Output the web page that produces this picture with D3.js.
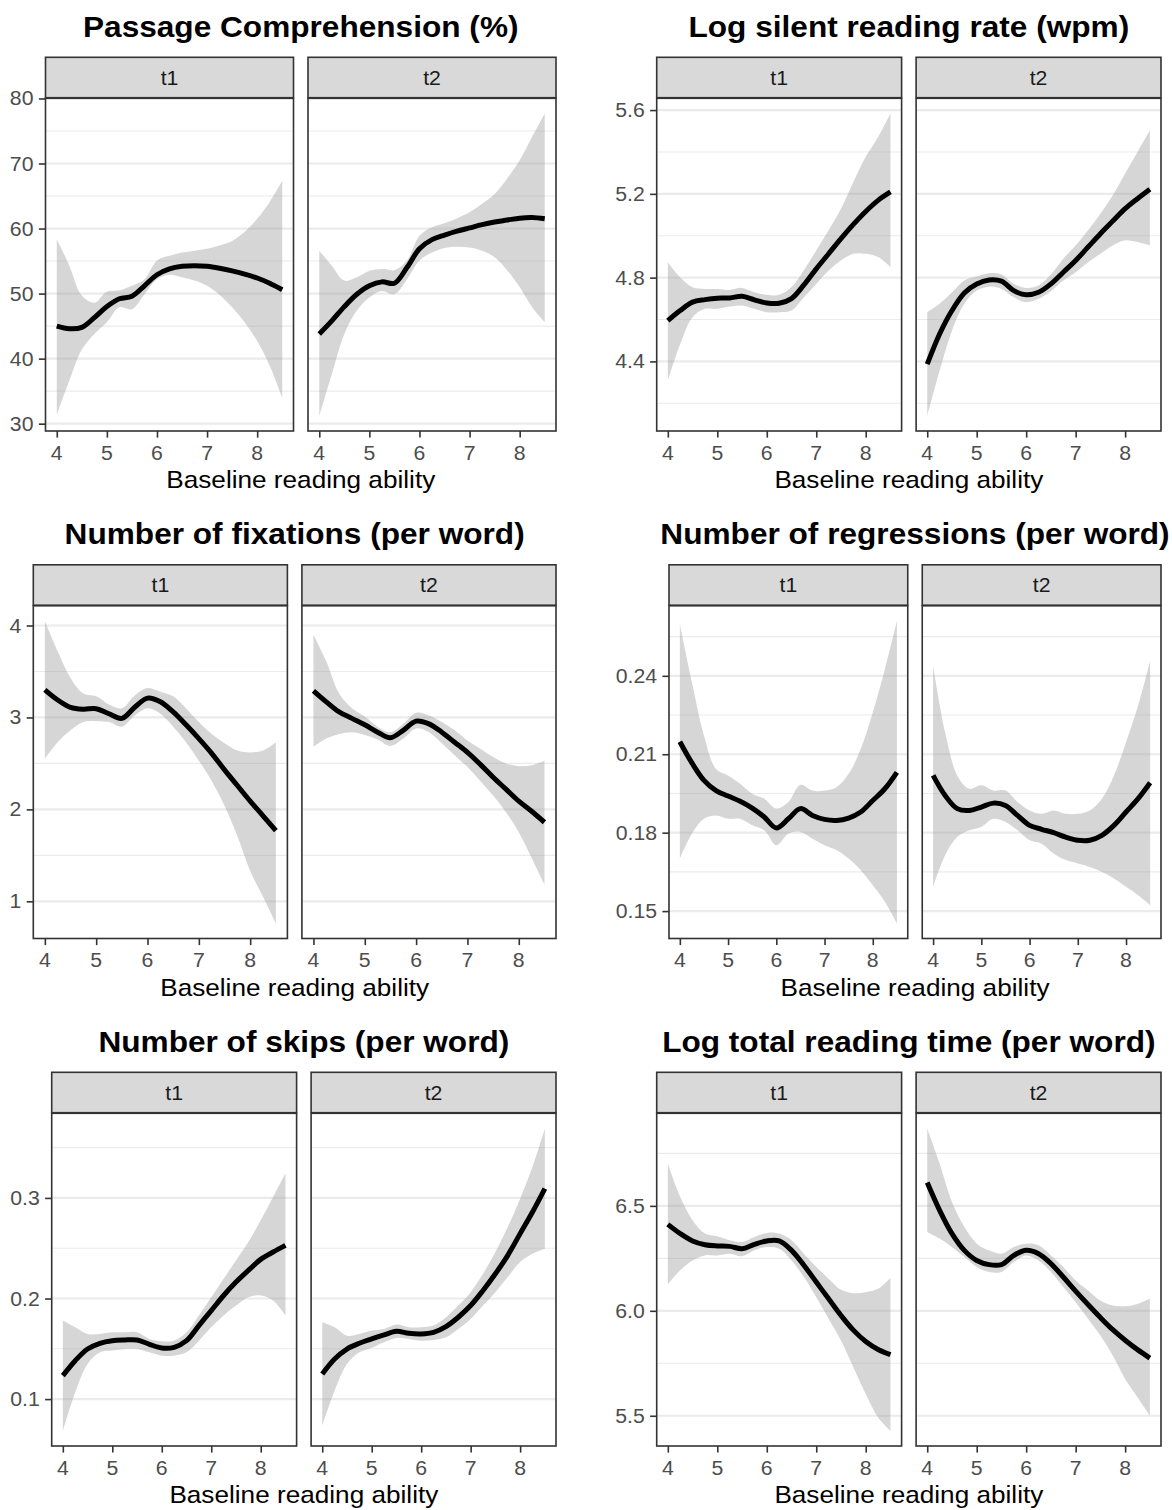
<!DOCTYPE html>
<html>
<head>
<meta charset="utf-8">
<script src="https://cdn.jsdelivr.net/npm/d3@7"></script>
<style>
  html, body { margin: 0; padding: 0; background: #ffffff; }
  svg { display: block; }
  text { font-family: "Liberation Sans", Arial, Helvetica, sans-serif; }
</style>
</head>
<body>
<svg id="chart" width="1172" height="1510"></svg>
<script>
// ---------------- DATA ----------------
const facets = ["t1", "t2"];
const xGrid = [4, 4.25, 4.5, 4.75, 5, 5.25, 5.5, 5.75, 6, 6.25, 6.5, 6.75, 7, 7.25, 7.5, 7.75, 8, 8.25, 8.5];
const xTicks = [4, 5, 6, 7, 8];
const xTitle = "Baseline reading ability";

const titles = [
  "Passage Comprehension (%)",
  "Log silent reading rate (wpm)",
  "Number of fixations (per word)",
  "Number of regressions (per word)",
  "Number of skips (per word)",
  "Log total reading time (per word)"
];

// y tick values and labels per measure
const yTicks = [
  [30, 40, 50, 60, 70, 80],
  [4.4, 4.8, 5.2, 5.6],
  [1, 2, 3, 4],
  [0.15, 0.18, 0.21, 0.24],
  [0.1, 0.2, 0.3],
  [5.5, 6.0, 6.5]
];
const yTickLabels = [
  ["30", "40", "50", "60", "70", "80"],
  ["4.4", "4.8", "5.2", "5.6"],
  ["1", "2", "3", "4"],
  ["0.15", "0.18", "0.21", "0.24"],
  ["0.1", "0.2", "0.3"],
  ["5.5", "6.0", "6.5"]
];

// Passage comprehension
const compT1Fit = [45.0, 44.6, 44.8, 46.3, 48.0, 49.2, 49.6, 51.2, 52.9, 53.8, 54.2, 54.3, 54.2, 53.9, 53.5, 53.0, 52.4, 51.6, 50.6];
const compT1Hi  = [58.4, 54.3, 49.7, 48.6, 50.3, 50.5, 51.2, 52.2, 55.1, 55.8, 56.3, 56.6, 56.9, 57.4, 58.1, 59.5, 61.5, 64.1, 67.3];
const compT1Lo  = [31.4, 36.6, 41.4, 43.8, 45.6, 47.9, 47.6, 49.9, 52.2, 52.9, 52.5, 52.0, 51.2, 49.8, 47.9, 45.6, 42.7, 38.9, 34.0];
const compT2Fit = [43.8, 45.8, 48.0, 49.9, 51.2, 51.8, 51.6, 54.0, 56.9, 58.3, 59.0, 59.6, 60.1, 60.6, 61.0, 61.3, 61.6, 61.7, 61.5];
const compT2Hi  = [56.6, 54.3, 52.0, 52.5, 53.5, 53.8, 53.6, 55.1, 58.9, 60.2, 60.8, 61.6, 62.5, 63.8, 65.3, 67.7, 70.5, 74.1, 77.7];
const compT2Lo  = [31.2, 37.6, 43.8, 47.4, 49.4, 50.4, 49.9, 52.2, 55.1, 56.3, 57.0, 57.2, 57.1, 56.6, 55.6, 53.6, 51.0, 47.9, 45.6];

// Log silent reading rate
const rateT1Fit = [4.595, 4.643, 4.683, 4.695, 4.702, 4.703, 4.711, 4.694, 4.679, 4.678, 4.700, 4.765, 4.842, 4.914, 4.986, 5.054, 5.116, 5.169, 5.209];
const rateT1Hi  = [4.874, 4.802, 4.754, 4.746, 4.746, 4.741, 4.751, 4.730, 4.718, 4.718, 4.755, 4.835, 4.930, 5.026, 5.129, 5.257, 5.377, 5.472, 5.584];
const rateT1Lo  = [4.308, 4.483, 4.611, 4.651, 4.651, 4.662, 4.667, 4.651, 4.635, 4.635, 4.643, 4.706, 4.770, 4.834, 4.882, 4.914, 4.914, 4.898, 4.850];
const rateT2Fit = [4.387, 4.531, 4.643, 4.727, 4.770, 4.789, 4.783, 4.738, 4.718, 4.730, 4.770, 4.826, 4.882, 4.946, 5.010, 5.070, 5.129, 5.177, 5.222];
const rateT2Hi  = [4.635, 4.675, 4.730, 4.786, 4.805, 4.821, 4.815, 4.770, 4.751, 4.762, 4.815, 4.890, 4.954, 5.026, 5.105, 5.193, 5.297, 5.400, 5.504];
const rateT2Lo  = [4.140, 4.355, 4.547, 4.675, 4.738, 4.757, 4.746, 4.706, 4.683, 4.699, 4.735, 4.786, 4.826, 4.874, 4.914, 4.954, 4.978, 4.970, 4.954];

// Number of fixations
const fixT1Fit = [3.30, 3.19, 3.11, 3.09, 3.095, 3.04, 2.99, 3.11, 3.21, 3.17, 3.06, 2.92, 2.77, 2.61, 2.43, 2.26, 2.09, 1.93, 1.77];
const fixT1Hi  = [4.05, 3.72, 3.43, 3.26, 3.23, 3.14, 3.10, 3.24, 3.32, 3.28, 3.23, 3.10, 2.95, 2.82, 2.72, 2.64, 2.62, 2.64, 2.73];
const fixT1Lo  = [2.55, 2.73, 2.86, 2.95, 2.96, 2.95, 2.90, 3.02, 3.10, 3.04, 2.90, 2.73, 2.53, 2.31, 2.04, 1.71, 1.33, 1.05, 0.76];
const fixT2Fit = [3.29, 3.17, 3.06, 2.99, 2.92, 2.84, 2.78, 2.86, 2.96, 2.93, 2.84, 2.73, 2.62, 2.49, 2.35, 2.22, 2.09, 1.98, 1.86];
const fixT2Hi  = [3.90, 3.61, 3.26, 3.10, 3.01, 2.90, 2.84, 2.93, 3.05, 3.02, 2.95, 2.86, 2.75, 2.66, 2.57, 2.50, 2.47, 2.48, 2.53];
const fixT2Lo  = [2.68, 2.77, 2.82, 2.84, 2.81, 2.76, 2.69, 2.77, 2.88, 2.84, 2.72, 2.59, 2.46, 2.31, 2.15, 1.97, 1.75, 1.47, 1.18];

// Number of regressions
const regT1Fit = [0.2148, 0.2067, 0.2000, 0.1961, 0.1940, 0.1920, 0.1894, 0.1860, 0.1818, 0.1853, 0.1892, 0.1866, 0.1851, 0.1847, 0.1856, 0.1879, 0.1923, 0.1968, 0.2031];
const regT1Hi  = [0.2597, 0.2375, 0.2171, 0.2044, 0.2019, 0.1987, 0.1949, 0.1930, 0.1892, 0.1917, 0.1983, 0.1961, 0.1961, 0.1974, 0.2025, 0.2120, 0.2260, 0.2425, 0.2610];
const regT1Lo  = [0.1701, 0.1796, 0.1853, 0.1866, 0.1853, 0.1853, 0.1828, 0.1809, 0.1752, 0.1796, 0.1803, 0.1777, 0.1752, 0.1733, 0.1701, 0.1656, 0.1599, 0.1536, 0.1453];
const regT2Fit = [0.2019, 0.1942, 0.1892, 0.1885, 0.1898, 0.1913, 0.1904, 0.1866, 0.1828, 0.1813, 0.1800, 0.1783, 0.1771, 0.1771, 0.1790, 0.1828, 0.1879, 0.1930, 0.1991];
const regT2Hi  = [0.2438, 0.2184, 0.2019, 0.1968, 0.1981, 0.1961, 0.1961, 0.1917, 0.1885, 0.1872, 0.1885, 0.1872, 0.1872, 0.1885, 0.1930, 0.2019, 0.2146, 0.2286, 0.2457];
const regT2Lo  = [0.1593, 0.1714, 0.1783, 0.1809, 0.1822, 0.1853, 0.1841, 0.1809, 0.1771, 0.1758, 0.1720, 0.1695, 0.1682, 0.1669, 0.1650, 0.1625, 0.1593, 0.1561, 0.1523];

// Number of skips
const skipT1Fit = [0.1233, 0.1382, 0.1498, 0.1555, 0.1581, 0.1588, 0.1588, 0.1545, 0.1508, 0.1515, 0.1581, 0.1731, 0.1880, 0.2030, 0.2163, 0.2279, 0.2389, 0.2462, 0.2528];
const skipT1Hi  = [0.1781, 0.1714, 0.1648, 0.1648, 0.1664, 0.1664, 0.1664, 0.1598, 0.1575, 0.1581, 0.1664, 0.1831, 0.2013, 0.2196, 0.2379, 0.2561, 0.2777, 0.3010, 0.3243];
const skipT1Lo  = [0.0684, 0.1066, 0.1349, 0.1465, 0.1482, 0.1498, 0.1498, 0.1465, 0.1432, 0.1432, 0.1465, 0.1581, 0.1714, 0.1831, 0.1930, 0.2013, 0.2030, 0.1980, 0.1831];
const skipT2Fit = [0.1249, 0.1399, 0.1498, 0.1555, 0.1598, 0.1638, 0.1674, 0.1654, 0.1648, 0.1664, 0.1721, 0.1814, 0.1930, 0.2080, 0.2246, 0.2429, 0.2645, 0.2860, 0.3093];
const skipT2Hi  = [0.1764, 0.1714, 0.1631, 0.1648, 0.1681, 0.1698, 0.1741, 0.1714, 0.1714, 0.1731, 0.1814, 0.1930, 0.2063, 0.2246, 0.2462, 0.2711, 0.2993, 0.3309, 0.3691];
const skipT2Lo  = [0.0734, 0.1083, 0.1349, 0.1465, 0.1508, 0.1565, 0.1608, 0.1598, 0.1581, 0.1588, 0.1615, 0.1698, 0.1797, 0.1930, 0.2063, 0.2213, 0.2362, 0.2445, 0.2495];

// Log total reading time
const timeT1Fit = [6.412, 6.368, 6.333, 6.315, 6.309, 6.307, 6.296, 6.317, 6.333, 6.333, 6.288, 6.217, 6.137, 6.057, 5.978, 5.908, 5.854, 5.816, 5.791];
const timeT1Hi  = [6.702, 6.543, 6.432, 6.368, 6.355, 6.336, 6.328, 6.352, 6.371, 6.368, 6.336, 6.272, 6.209, 6.153, 6.100, 6.084, 6.089, 6.105, 6.158];
const timeT1Lo  = [6.126, 6.193, 6.240, 6.264, 6.264, 6.272, 6.260, 6.288, 6.304, 6.296, 6.240, 6.161, 6.065, 5.962, 5.858, 5.731, 5.604, 5.492, 5.428];
const timeT2Fit = [6.611, 6.479, 6.368, 6.288, 6.240, 6.220, 6.220, 6.264, 6.288, 6.272, 6.225, 6.161, 6.094, 6.030, 5.968, 5.910, 5.860, 5.815, 5.775];
const timeT2Hi  = [6.869, 6.702, 6.519, 6.400, 6.320, 6.288, 6.272, 6.304, 6.320, 6.312, 6.264, 6.209, 6.145, 6.097, 6.049, 6.025, 6.022, 6.033, 6.057];
const timeT2Lo  = [6.376, 6.344, 6.304, 6.256, 6.209, 6.185, 6.185, 6.232, 6.264, 6.240, 6.185, 6.113, 6.041, 5.962, 5.882, 5.787, 5.675, 5.588, 5.500];

const series = [
  [[compT1Fit, compT1Lo, compT1Hi], [compT2Fit, compT2Lo, compT2Hi]],
  [[rateT1Fit, rateT1Lo, rateT1Hi], [rateT2Fit, rateT2Lo, rateT2Hi]],
  [[fixT1Fit, fixT1Lo, fixT1Hi], [fixT2Fit, fixT2Lo, fixT2Hi]],
  [[regT1Fit, regT1Lo, regT1Hi], [regT2Fit, regT2Lo, regT2Hi]],
  [[skipT1Fit, skipT1Lo, skipT1Hi], [skipT2Fit, skipT2Lo, skipT2Hi]],
  [[timeT1Fit, timeT1Lo, timeT1Hi], [timeT2Fit, timeT2Lo, timeT2Hi]]
];

// ---------------- LAYOUT ----------------
const SX = 1.09;               // horizontal stretch of the original raster
const colOffset = [0, 605];
const rowStep = 507.5;
const panelLefts = [45.5, 656.7, 33.3, 669, 51.7, 656.7];
const panelRightRel = 556;     // right edge of the t2 panel relative to column
const facetGap = 14.5;
const stripTop = 57.3, stripBottom = 98.3, panelBottom = 431;
const titleBase = 36.5;

const FONT_TITLE = 29, FONT_AXIS = 24, FONT_TICK = 19.5;

const svg = d3.select("#chart");
svg.append("rect").attr("width", 1172).attr("height", 1510).attr("fill", "#ffffff");

function text(g, x, y, str, size, opts = {}) {
  return g.append("text")
    .attr("transform", `translate(${x},${y}) scale(${SX},1)`)
    .attr("text-anchor", opts.anchor || "middle")
    .attr("font-size", size)
    .attr("font-weight", opts.weight || "normal")
    .attr("fill", opts.fill || "#000000")
    .text(str);
}

const xExt = d3.extent(xGrid);
const xPad = (xExt[1] - xExt[0]) * 0.05;

series.forEach((measure, i) => {
  const col = i % 2, row = Math.floor(i / 2);
  const oy = row * rowStep;
  const left = panelLefts[i];
  const right = colOffset[col] + panelRightRel;
  const pw = (right - left - facetGap) / 2;
  const g = svg.append("g");

  // shared y scale
  const allVals = measure.flatMap(f => f[1].concat(f[2]));
  const [ymin, ymax] = d3.extent(allVals);
  const yPad = (ymax - ymin) * 0.05;
  const y = d3.scaleLinear().domain([ymin - yPad, ymax + yPad]).range([panelBottom + oy, stripBottom + oy]);

  const majors = yTicks[i];
  const step = majors[1] - majors[0];
  const minorCand = [majors[0] - step / 2].concat(majors.map(v => v + step / 2));
  const dom = y.domain();
  const minors = minorCand.filter(v => v >= dom[0] && v <= dom[1]);

  // title centered over the panel area
  text(g, (left + right) / 2, titleBase + oy, titles[i], FONT_TITLE, { weight: "bold" });

  measure.forEach((fac, j) => {
    const px0 = left + j * (pw + facetGap);
    const x = d3.scaleLinear().domain([xExt[0] - xPad, xExt[1] + xPad]).range([px0, px0 + pw]);
    const pg = g.append("g");

    // panel background
    pg.append("rect").attr("x", px0).attr("y", stripBottom + oy).attr("width", pw)
      .attr("height", panelBottom - stripBottom).attr("fill", "#ffffff");

    // grid lines
    pg.selectAll(".minor").data(minors).join("line")
      .attr("x1", px0).attr("x2", px0 + pw)
      .attr("y1", d => y(d)).attr("y2", d => y(d))
      .attr("stroke", "#ebebeb").attr("stroke-width", 1.1);
    pg.selectAll(".major").data(majors).join("line")
      .attr("x1", px0).attr("x2", px0 + pw)
      .attr("y1", d => y(d)).attr("y2", d => y(d))
      .attr("stroke", "#ebebeb").attr("stroke-width", 2.2);

    const pts = xGrid.map((xv, k) => ({ x: xv, fit: fac[0][k], lo: fac[1][k], hi: fac[2][k] }));
    const curve = d3.curveCatmullRom.alpha(0.5);

    // ribbon
    pg.append("path").datum(pts)
      .attr("d", d3.area().x(d => x(d.x)).y0(d => y(d.lo)).y1(d => y(d.hi)).curve(curve))
      .attr("fill", "#999999").attr("fill-opacity", 0.4);

    // smooth line
    pg.append("path").datum(pts)
      .attr("d", d3.line().x(d => x(d.x)).y(d => y(d.fit)).curve(curve))
      .attr("fill", "none").attr("stroke", "#000000").attr("stroke-width", 5)
      .attr("stroke-linecap", "butt").attr("stroke-linejoin", "round");

    // panel border
    pg.append("rect").attr("x", px0).attr("y", stripBottom + oy).attr("width", pw)
      .attr("height", panelBottom - stripBottom).attr("fill", "none")
      .attr("stroke", "#333333").attr("stroke-width", 1.6);

    // strip
    pg.append("rect").attr("x", px0).attr("y", stripTop + oy).attr("width", pw)
      .attr("height", stripBottom - stripTop - 0.6).attr("fill", "#d9d9d9")
      .attr("stroke", "#333333").attr("stroke-width", 1.6);
    text(pg, px0 + pw / 2, (stripTop + stripBottom) / 2 + oy + 7, facets[j], FONT_TICK, { fill: "#1a1a1a" });

    // x axis
    const xa = pg.append("g").attr("transform", `translate(0,${panelBottom + oy})`)
      .call(d3.axisBottom(x).tickValues(xTicks).tickSize(6.6).tickFormat(""));
    xa.select(".domain").remove();
    xa.selectAll(".tick line").attr("stroke", "#333333").attr("stroke-width", 1.6);
    xTicks.forEach(t => text(pg, x(t), panelBottom + oy + 28.5, String(t), FONT_TICK, { fill: "#4d4d4d" }));

    // y axis only on the first facet
    if (j === 0) {
      const ya = pg.append("g").attr("transform", `translate(${px0},0)`)
        .call(d3.axisLeft(y).tickValues(majors).tickSize(6.6).tickFormat(""));
      ya.select(".domain").remove();
      ya.selectAll(".tick line").attr("stroke", "#333333").attr("stroke-width", 1.6);
      majors.forEach((t, k) => text(pg, px0 - 12, y(t) + 7, yTickLabels[i][k], FONT_TICK, { anchor: "end", fill: "#4d4d4d" }));
    }
  });

  // x axis title
  text(g, (left + right) / 2, panelBottom + oy + 57, xTitle, FONT_AXIS);
});
</script>
</body>
</html>
